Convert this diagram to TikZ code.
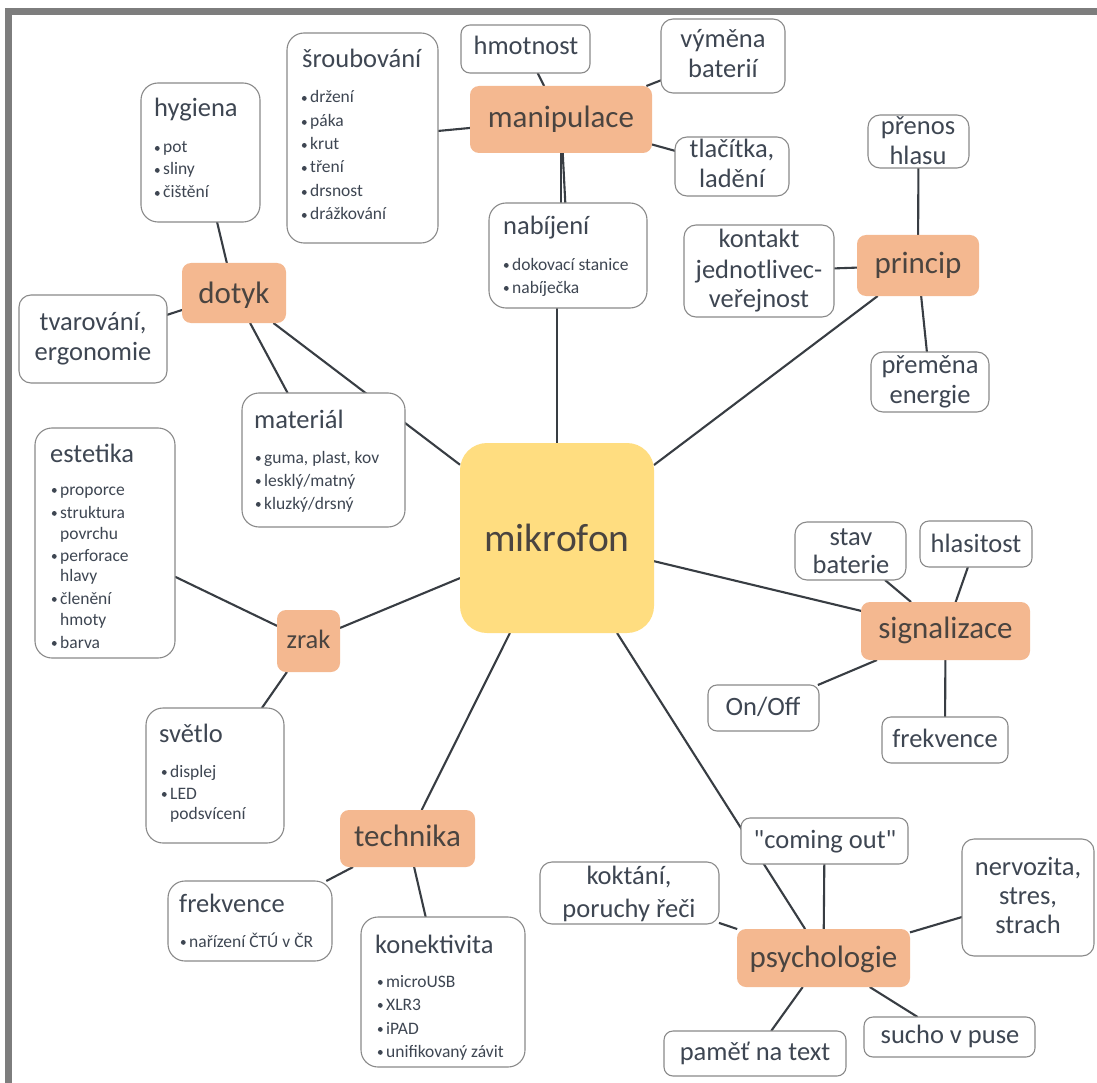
\documentclass[tikz,border=0pt]{standalone}
\usepackage{fontspec}
\setmainfont{Carlito}
\usetikzlibrary{backgrounds}
\definecolor{txt}{HTML}{3E4652}
\definecolor{otxt}{HTML}{4A4440}
\definecolor{peach}{HTML}{F4B890}
\definecolor{yel}{HTML}{FFDD80}
\definecolor{bord}{HTML}{8A8A8A}
\definecolor{conn}{HTML}{383D43}
\definecolor{frm}{HTML}{7D7D7D}
\newcommand\mkbox[6]{%
  \pgfmathsetmacro\mbx{(#3+#5)/2}%
  \pgfmathsetmacro\mby{(#4+#6)/2}%
  \pgfmathsetmacro\mbw{#5-#3}%
  \pgfmathsetmacro\mbh{#6-#4}%
  \node[#2,minimum width=\mbw pt,minimum height=\mbh pt] (#1) at (\mbx,\mby) {};}
\newcommand\bul[4]{%
  \fill[txt] ({#2+2.3},{#3-4.6}) circle (2.4pt);
  \node[itm] (#1) at ({#2+8},#3) {#4};}
\tikzset{
  boxbase/.style={inner sep=0pt, outer sep=0pt},
  wsingle/.style={boxbase, draw=bord, line width=1.1pt, fill=white, rounded corners=9pt},
  wmulti/.style={wsingle, rounded corners=12pt},
  wlist/.style={wsingle, rounded corners=17pt},
  obox/.style={boxbase, fill=peach, rounded corners=9pt},
  cbox/.style={boxbase, fill=yel, rounded corners=27pt},
  ttl/.style={inner sep=0pt, text=txt, font=\fontsize{26.5}{30}\selectfont},
  ctr/.style={ttl, anchor=base},
  lft/.style={ttl, anchor=base west},
  itm/.style={inner sep=0pt, text=txt, anchor=base west, font=\fontsize{17.5}{21}\selectfont},
  otx/.style={inner sep=0pt, text=otxt, anchor=base, font=\fontsize{31}{36}\selectfont},
  conline/.style={draw=conn, line width=2.1pt},
}
\begin{document}
\begin{tikzpicture}[x=1pt,y=-1pt]
\useasboundingbox (0,0) rectangle (1097,1083);
% frame
\fill[frm] (5,8) rectangle (1097,15);
\fill[frm] (5,8) rectangle (12,1083);
% boxes
\mkbox{srou}{wlist}{287}{33}{438}{243}
\mkbox{hyg}{wlist}{141}{83}{260}{222}
\mkbox{hmot}{wsingle}{461}{25}{590}{73}
\mkbox{manip}{obox}{470}{86}{652}{153}
\mkbox{vym}{wmulti}{661}{19}{785}{93}
\mkbox{tlac}{wmulti}{675}{137}{789}{196}
\mkbox{pren}{wmulti}{868}{115}{969}{168}
\mkbox{nab}{wlist}{489}{203}{647}{308}
\mkbox{kont}{wmulti}{684}{225}{834}{317}
\mkbox{princ}{obox}{857}{235}{979}{296}
\mkbox{dotyk}{obox}{182}{263}{286}{323}
\mkbox{tvar}{wmulti}{19}{295}{167}{383}
\mkbox{prem}{wmulti}{871}{352}{989}{412}
\mkbox{mat}{wlist}{242}{393}{405}{527}
\mkbox{est}{wlist}{35}{428}{175}{658}
\mkbox{mikro}{cbox}{460}{443}{654}{633}
\mkbox{zrak}{obox}{277}{610}{340}{672}
\mkbox{stav}{wmulti}{795}{522}{906}{580}
\mkbox{hlas}{wsingle}{920}{521}{1032}{567}
\mkbox{sig}{obox}{861}{602}{1030}{660}
\mkbox{svetlo}{wlist}{146}{708}{284}{843}
\mkbox{tech}{obox}{340}{810}{475}{867}
\mkbox{frekT}{wlist}{168}{881}{332}{961}
\mkbox{kon}{wlist}{361}{917}{525}{1067}
\mkbox{onoff}{wsingle}{708}{685}{819}{731}
\mkbox{frekS}{wsingle}{882}{717}{1008}{763}
\mkbox{coming}{wsingle}{741}{818}{908}{864}
\mkbox{kokt}{wmulti}{540}{862}{719}{924}
\mkbox{nerv}{wmulti}{962}{839}{1094}{956}
\mkbox{psych}{obox}{737}{929}{910}{987}
\mkbox{sucho}{wsingle}{864}{1017}{1035}{1057}
\mkbox{pamet}{wsingle}{664}{1031}{846}{1076}
% centred texts
\node[ctr] (hmot-t) at (526,55) {hmotnost};
\node[ctr] (vym-t1) at (723,48) {výměna};
\node[ctr] (vym-t2) at (723,78) {baterií};
\node[ctr] (tlac-t1) at (732,158) {tlačítka,};
\node[ctr] (tlac-t2) at (732,188) {ladění};
\node[ctr] (pren-t1) at (918,135) {přenos};
\node[ctr] (pren-t2) at (918,165) {hlasu};
\node[ctr] (kont-t1) at (759,248) {kontakt};
\node[ctr] (kont-t2) at (759,278) {jednotlivec-};
\node[ctr] (kont-t3) at (759,307) {veřejnost};
\node[ctr] (tvar-t1) at (93,330) {tvarování,};
\node[ctr] (tvar-t2) at (93,360) {ergonomie};
\node[ctr] (prem-t1) at (930,373) {přeměna};
\node[ctr] (prem-t2) at (930,403) {energie};
\node[ctr] (stav-t1) at (851,545) {stav};
\node[ctr] (stav-t2) at (851,573) {baterie};
\node[ctr] (hlas-t) at (976,552) {hlasitost};
\node[ctr] (onoff-t) at (763,715) {On/Off};
\node[ctr] (frekS-t) at (945,747) {frekvence};
\node[ctr] (coming-t) at (825,848) {\textquotedbl coming out\textquotedbl};
\node[ctr] (kokt-t1) at (629,884) {koktání,};
\node[ctr] (kokt-t2) at (629,917) {poruchy řeči};
\node[ctr] (nerv-t1) at (1028,875) {nervozita,};
\node[ctr] (nerv-t2) at (1028,904) {stres,};
\node[ctr] (nerv-t3) at (1028,933) {strach};
\node[ctr] (sucho-t) at (950,1043) {sucho v puse};
\node[ctr] (pamet-t) at (755,1060) {paměť na text};
% orange / central texts
\node[otx] (manip-t) at (561,128) {manipulace};
\node[otx] (princ-t) at (918,273) {princip};
\node[otx] (dotyk-t) at (234,303) {dotyk};
\node[otx, font=\fontsize{26.5}{30}\selectfont] (zrak-t) at (308.5,648) {zrak};
\node[otx] (sig-t) at (945.5,638) {signalizace};
\node[otx] (tech-t) at (407.5,846) {technika};
\node[otx] (psych-t) at (823.5,967) {psychologie};
\node[otx, font=\fontsize{39.5}{45}\selectfont] (mikro-t) at (557,551) {mikrofon};
% list boxes
\node[lft] (srou-t) at (302,68) {šroubování};
\bul{srou-1}{302}{103}{držení}
\bul{srou-2}{302}{127}{páka}
\bul{srou-3}{302}{150}{krut}
\bul{srou-4}{302}{173}{tření}
\bul{srou-5}{302}{197}{drsnost}
\bul{srou-6}{302}{220}{drážkování}
\node[lft] (hyg-t) at (154,117) {hygiena};
\bul{hyg-1}{155}{153}{pot}
\bul{hyg-2}{155}{175}{sliny}
\bul{hyg-3}{155}{198}{čištění}
\node[lft] (nab-t) at (503,235) {nabíjení};
\bul{nab-1}{504}{270}{dokovací stanice}
\bul{nab-2}{504}{293}{nabíječka}
\node[lft] (mat-t) at (254,428) {materiál};
\bul{mat-1}{256}{463}{guma, plast, kov}
\bul{mat-2}{256}{486}{lesklý/matný}
\bul{mat-3}{256}{509}{kluzký/drsný}
\node[lft] (est-t) at (50,462) {estetika};
\bul{est-1}{52}{495}{proporce}
\bul{est-2}{52}{518}{struktura}
\node[itm] (est-2b) at (60,539) {povrchu};
\bul{est-3}{52}{561}{perforace}
\node[itm] (est-3b) at (60,581) {hlavy};
\bul{est-4}{52}{604}{členění}
\node[itm] (est-4b) at (60,625) {hmoty};
\bul{est-5}{52}{648}{barva}
\node[lft] (svetlo-t) at (159,742) {světlo};
\bul{svetlo-1}{162}{777}{displej}
\bul{svetlo-2}{162}{799}{LED}
\node[itm] (svetlo-2b) at (170,819) {podsvícení};
\node[lft] (frekT-t) at (179,912) {frekvence};
\bul{frekT-1}{181}{947}{nařízení ČTÚ v ČR}
\node[lft] (kon-t) at (375,953) {konektivita};
\bul{kon-1}{378}{987}{microUSB}
\bul{kon-2}{378}{1010}{XLR3}
\bul{kon-3}{378}{1034}{iPAD}
\bul{kon-4}{378}{1057}{unifikovaný závit}
% connectors behind the boxes
\begin{scope}[on background layer]
\fill[white] (0,0) rectangle (1097,1083);
\draw[conline] (manip) -- (srou);
\draw[conline] (manip) -- (hmot);
\draw[conline] (manip) -- (vym);
\draw[conline] (manip) -- (tlac);
\draw[conline] (manip) -- (nab);
\draw[conline] (manip.south) -- (manip.south |- nab.north);
\draw[conline] (mikro.north) -- (mikro.north |- nab.south);
\draw[conline] (princ) -- (pren);
\draw[conline] (princ) -- (kont);
\draw[conline] (princ) -- (prem);
\draw[conline] (princ) -- (mikro);
\draw[conline] (dotyk) -- (hyg);
\draw[conline] (dotyk) -- (tvar);
\draw[conline] (dotyk) -- (mat);
\draw[conline] (dotyk) -- (mikro);
\draw[conline] (zrak) -- (est);
\draw[conline] (zrak) -- (mikro);
\draw[conline] (zrak) -- (svetlo);
\draw[conline] (mikro) -- (tech);
\draw[conline] (tech) -- (frekT);
\draw[conline] (tech) -- (kon);
\draw[conline] (mikro) -- (sig);
\draw[conline] (sig) -- (stav);
\draw[conline] (sig) -- (hlas);
\draw[conline] (sig) -- (onoff);
\draw[conline] (sig) -- (frekS);
\draw[conline] (mikro) -- (psych);
\draw[conline] (psych) -- (coming);
\draw[conline] (psych) -- (kokt);
\draw[conline] (psych) -- (nerv);
\draw[conline] (psych) -- (pamet);
\draw[conline] (psych) -- (sucho);
\end{scope}
\end{tikzpicture}
\end{document}
